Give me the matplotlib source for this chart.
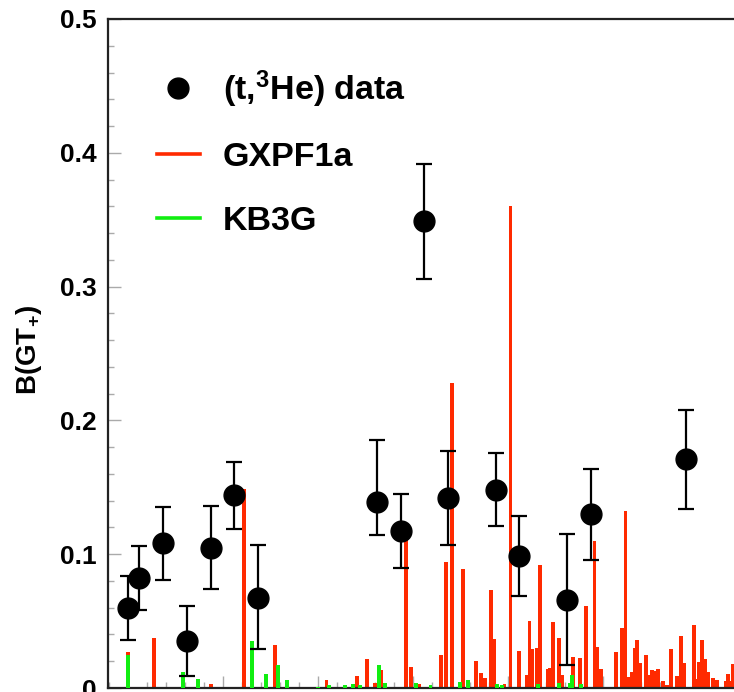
import matplotlib
matplotlib.use("Agg")
import matplotlib.pyplot as plt
from matplotlib.lines import Line2D
from matplotlib.ticker import MultipleLocator, FormatStrFormatter

plt.rcParams['font.family'] = ['Liberation Sans', 'DejaVu Sans']
plt.rcParams['font.weight'] = 'bold'
plt.rcParams['mathtext.fontset'] = 'custom'
plt.rcParams['mathtext.rm'] = 'Liberation Sans:bold'
plt.rcParams['mathtext.it'] = 'Liberation Sans:bold'
plt.rcParams['mathtext.bf'] = 'Liberation Sans:bold'

# (t,3He) data: excitation energy (MeV), B(GT+), lower/upper errors
data_ex = [0.0, 0.12, 0.37, 0.62, 0.87, 1.12, 1.37, 2.62, 2.87, 3.12, 3.37, 3.87, 4.12, 4.62, 4.87, 5.87]
data_bgt = [0.060, 0.082, 0.108, 0.035, 0.105, 0.144, 0.067, 0.139, 0.117, 0.349, 0.142, 0.148, 0.0985, 0.066, 0.130, 0.171]
data_err_lo = [0.024, 0.024, 0.027, 0.026, 0.031, 0.025, 0.038, 0.025, 0.027, 0.043, 0.035, 0.027, 0.030, 0.049, 0.034, 0.037]
data_err_hi = [0.024, 0.024, 0.027, 0.026, 0.031, 0.025, 0.040, 0.046, 0.028, 0.043, 0.035, 0.028, 0.030, 0.049, 0.034, 0.037]

# GXPF1a shell-model strengths
gx_ex = [0.0, 0.277, 0.874, 1.224, 1.551, 1.958, 2.09, 2.407, 2.516, 2.597,
         2.668, 2.926, 2.979, 3.063, 3.295, 3.347, 3.407, 3.526, 3.663, 3.716,
         3.761, 3.824, 3.858, 3.963, 4.026, 4.119, 4.195, 4.226, 4.258, 4.309,
         4.340, 4.416, 4.442, 4.477, 4.537, 4.565, 4.688, 4.758, 4.821, 4.911,
         4.940, 4.979, 5.137, 5.198, 5.237, 5.274, 5.302, 5.332, 5.358, 5.395,
         5.449, 5.495, 5.519, 5.555, 5.582, 5.635, 5.671, 5.716, 5.776, 5.818,
         5.853, 5.916, 5.958, 5.986, 6.011, 6.039, 6.074, 6.108, 6.155, 6.197,
         6.26, 6.295, 6.313, 6.337, 6.365]
gx_bgt = [0.027, 0.037, 0.003, 0.149, 0.032, 0.001, 0.0058, 0.0087, 0.0215, 0.0035,
          0.0133, 0.123, 0.016, 0.003, 0.0244, 0.094, 0.228, 0.089, 0.0205, 0.0115,
          0.0077, 0.073, 0.0364, 0.003, 0.36, 0.028, 0.0097, 0.050, 0.029, 0.0297,
          0.092, 0.0145, 0.015, 0.049, 0.037, 0.010, 0.0229, 0.0222, 0.061, 0.110,
          0.0305, 0.014, 0.0266, 0.0445, 0.132, 0.0079, 0.012, 0.030, 0.036, 0.0184,
          0.0247, 0.010, 0.0135, 0.013, 0.014, 0.005, 0.002, 0.0295, 0.0093, 0.0386,
          0.019, 0.001, 0.047, 0.0064, 0.0197, 0.036, 0.0217, 0.012, 0.0072, 0.0062,
          0.001, 0.0055, 0.0105, 0.005, 0.018]

# KB3G shell-model strengths
kb_ex = [0.0, 0.582, 0.734, 1.302, 1.453, 1.576, 1.674, 2.0, 2.113, 2.281,
         2.368, 2.445, 2.639, 2.708, 3.028, 3.184, 3.495, 3.576, 3.881, 3.934,
         4.316, 4.540, 4.653, 4.677, 4.765]
kb_bgt = [0.0244, 0.012, 0.007, 0.035, 0.0105, 0.017, 0.006, 0.001, 0.002, 0.002,
          0.003, 0.002, 0.0172, 0.0035, 0.004, 0.002, 0.0045, 0.006, 0.003, 0.002,
          0.003, 0.0035, 0.004, 0.010, 0.003]

red = '#ff2a00'
green = '#11ee11'

fig = plt.figure(figsize=(7.34, 6.92), dpi=100)
ax = fig.add_axes([108 / 734, 4 / 692, 685 / 734, 669 / 692])

ax.bar(gx_ex, gx_bgt, width=0.04, color=red, linewidth=0, zorder=2)
ax.bar(kb_ex, kb_bgt, width=0.04, color=green, linewidth=0, zorder=3)
ax.errorbar(data_ex, data_bgt, yerr=[data_err_lo, data_err_hi], fmt='o', color='black',
            markersize=15, elinewidth=1.6, capsize=6, capthick=1.6, zorder=5)

ax.set_xlim(-0.21, 7.0)
ax.set_ylim(0, 0.5)

ax.yaxis.set_major_locator(MultipleLocator(0.1))
ax.yaxis.set_minor_locator(MultipleLocator(0.02))
ax.yaxis.set_major_formatter(FormatStrFormatter('%g'))
ax.xaxis.set_major_locator(MultipleLocator(1))
ax.xaxis.set_minor_locator(MultipleLocator(0.2))
ax.tick_params(which='both', direction='in', color='#aaaaaa', width=1.0)
ax.tick_params(which='major', length=9)
ax.tick_params(which='minor', length=4.5)
ax.tick_params(axis='y', labelsize=19, pad=8)
ax.tick_params(axis='x', labelbottom=False)
for lab in ax.get_yticklabels():
    lab.set_fontweight('bold')

for side in ['left', 'top', 'bottom', 'right']:
    ax.spines[side].set_linewidth(1.6)
    ax.spines[side].set_color('#222222')

ax.set_ylabel('B(GT$_{+}$)', fontsize=20, fontweight='bold')
ax.yaxis.set_label_coords(-0.094, 0.505)

handles = [
    Line2D([], [], marker='o', color='black', linestyle='none', markersize=15),
    Line2D([], [], color=red, linewidth=2.6),
    Line2D([], [], color=green, linewidth=2.6),
]
labels = ['(t,$^{3}$He) data', 'GXPF1a', 'KB3G']
ax.legend(handles, labels, loc='upper left', bbox_to_anchor=(157 / 734, 1 - 68 / 692),
          bbox_transform=fig.transFigure, frameon=False,
          handlelength=1.25, handletextpad=0.68, labelspacing=0.96,
          borderpad=0, borderaxespad=0, prop={'weight': 'bold', 'size': 24.5})

fig.savefig('out.png', dpi=100)
